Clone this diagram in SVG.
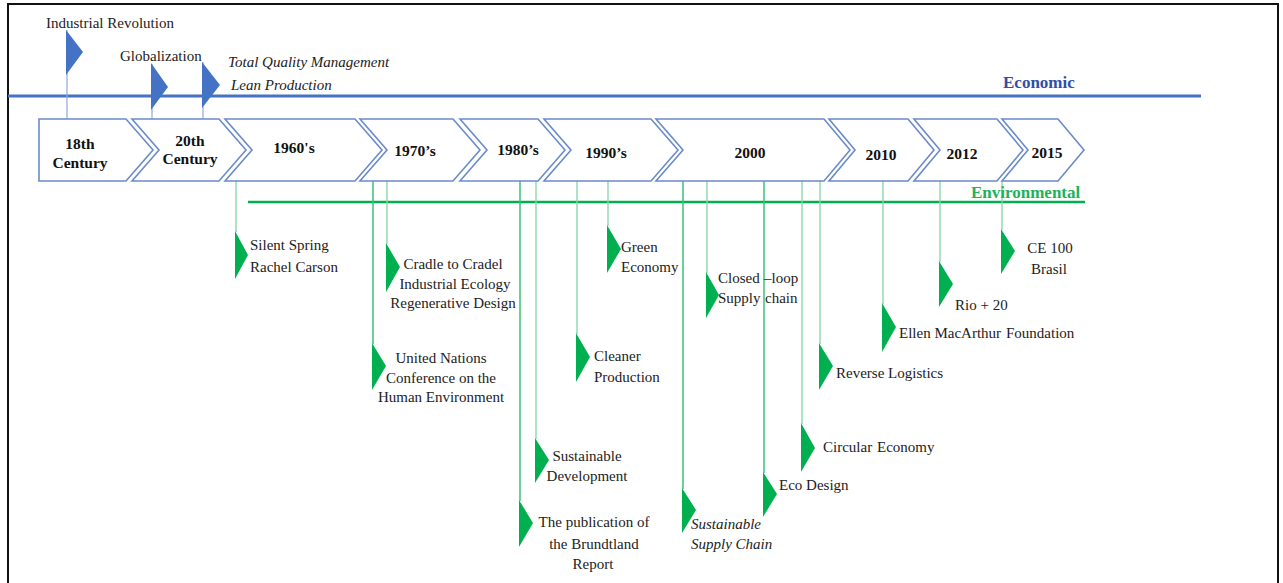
<svg xmlns="http://www.w3.org/2000/svg" width="1283" height="583" viewBox="0 0 1283 583">
  <style>
    .frame { fill: none; stroke: #111; stroke-width: 2; }
    .chev { fill: #fff; stroke: #6A8BCB; stroke-width: 1.6; stroke-linejoin: miter; }
    .era { font-family: "Liberation Serif", serif; font-weight: bold; font-size: 15.5px; fill: #111; text-anchor: middle; }
    .lbl { font-family: "Liberation Serif", serif; font-size: 15px; fill: #222; }
    .it { font-style: italic; }
    .mid { text-anchor: middle; }
    .axis-eco { stroke: #4472C4; stroke-width: 3; }
    .axis-env { stroke: #00B050; stroke-width: 2.6; }
    .eco-title { font-family: "Liberation Serif", serif; font-weight: bold; font-size: 17px; fill: #2F4FA8; }
    .env-title { font-family: "Liberation Serif", serif; font-weight: bold; font-size: 17px; fill: #1DB35A; }
    .pole-b { stroke: #8EA9DB; stroke-width: 1.2; }
    .pole-g { stroke: #82D6A6; stroke-width: 1.3; }
    .pole-gd { stroke: #3DBF78; stroke-width: 1.5; }
    .flag-b { fill: #4472C4; }
    .flag-g { fill: #00B050; }
  </style>

  <!-- outer frame -->
  <rect class="frame" x="8" y="4" width="1270" height="620"/>

  <!-- axes -->
  <g id="axes">
    <line class="axis-eco" x1="8" y1="96" x2="1201" y2="96"/>
    <text class="eco-title" x="1003" y="88">Economic</text>
    <line class="axis-env" x1="248" y1="202" x2="1085" y2="202"/>
  </g>

  <!-- connectors: poles from the timeline to each milestone flag -->
  <g id="connectors">
    <line class="pole-b" x1="67" y1="30" x2="67" y2="119"/>
    <line class="pole-b" x1="152" y1="64" x2="152" y2="119"/>
    <line class="pole-b" x1="203" y1="62" x2="203" y2="119"/>

    <line class="pole-g" x1="236" y1="181" x2="236" y2="232"/>
    <line class="pole-gd" x1="373" y1="181" x2="373" y2="344"/>
    <line class="pole-g" x1="387" y1="181" x2="387" y2="244"/>
    <line class="pole-gd" x1="520" y1="181" x2="520" y2="501"/>
    <line class="pole-g" x1="536" y1="181" x2="536" y2="439"/>
    <line class="pole-g" x1="577" y1="181" x2="577" y2="334"/>
    <line class="pole-g" x1="608" y1="181" x2="608" y2="226"/>
    <line class="pole-gd" x1="683" y1="181" x2="683" y2="489"/>
    <line class="pole-g" x1="707" y1="181" x2="707" y2="273"/>
    <line class="pole-gd" x1="764" y1="181" x2="764" y2="473"/>
    <line class="pole-g" x1="802" y1="181" x2="802" y2="424"/>
    <line class="pole-g" x1="820" y1="181" x2="820" y2="344"/>
    <line class="pole-g" x1="883" y1="181" x2="883" y2="304"/>
    <line class="pole-g" x1="940" y1="181" x2="940" y2="262"/>
    <line class="pole-g" x1="1002" y1="181" x2="1002" y2="230"/>
  </g>

  <!-- era chevrons -->
  <g id="era-18th">
    <polygon class="chev" points="39,119 126,119 153,150 126,181 39,181"/>
    <text class="era" x="80" y="149">18th</text>
    <text class="era" x="80" y="168">Century</text>
  </g>
  <g id="era-20th">
    <polygon class="chev" points="132,119 219,119 246,150 219,181 132,181 159,150"/>
    <text class="era" x="190" y="146">20th</text>
    <text class="era" x="190" y="164">Century</text>
  </g>
  <g id="era-1960s">
    <polygon class="chev" points="225,119 355,119 382,150 355,181 225,181 252,150"/>
    <text class="era" x="294" y="153">1960's</text>
  </g>
  <g id="era-1970s">
    <polygon class="chev" points="360,119 453,119 480,150 453,181 360,181 387,150"/>
    <text class="era" x="415" y="156">1970’s</text>
  </g>
  <g id="era-1980s">
    <polygon class="chev" points="460,119 538,119 565,150 538,181 460,181 487,150"/>
    <text class="era" x="518" y="155">1980’s</text>
  </g>
  <g id="era-1990s">
    <polygon class="chev" points="544,119 651,119 678,150 651,181 544,181 571,150"/>
    <text class="era" x="606" y="158">1990’s</text>
  </g>
  <g id="era-2000">
    <polygon class="chev" points="656,119 824,119 850,150 824,181 656,181 683,150"/>
    <text class="era" x="750" y="158">2000</text>
  </g>
  <g id="era-2010">
    <polygon class="chev" points="829,119 908,119 934,150 908,181 829,181 855,150"/>
    <text class="era" x="881" y="160">2010</text>
  </g>
  <g id="era-2012">
    <polygon class="chev" points="914,119 997,119 1023,150 997,181 914,181 940,150"/>
    <text class="era" x="962" y="159">2012</text>
  </g>
  <g id="era-2015">
    <polygon class="chev" points="1002,119 1058,119 1084,150 1058,181 1002,181 1028,150"/>
    <text class="era" x="1047" y="158">2015</text>
  </g>

  <text class="env-title" x="971" y="198">Environmental</text>

  <!-- economic milestones -->
  <g id="m-industrial-revolution">
    <polygon class="flag-b" points="66,30 83,52 66,75"/>
    <text class="lbl" x="46" y="28">Industrial Revolution</text>
  </g>
  <g id="m-globalization">
    <polygon class="flag-b" points="151,63 168,87 151,110"/>
    <text class="lbl" x="120" y="61">Globalization</text>
  </g>
  <g id="m-tqm-lean">
    <polygon class="flag-b" points="202,62 220,85 202,108"/>
    <text class="lbl it" x="228" y="67">Total Quality Management</text>
    <text class="lbl it" x="231" y="90">Lean Production</text>
  </g>

  <!-- environmental milestones -->
  <g id="m-silent-spring">
    <polygon class="flag-g" points="235,231 248,255 235,279"/>
    <text class="lbl" x="250" y="250">Silent Spring</text>
    <text class="lbl" x="250" y="272">Rachel Carson</text>
  </g>
  <g id="m-cradle">
    <polygon class="flag-g" points="386,243 400,267 386,292"/>
    <text class="lbl mid" x="453" y="269">Cradle to Cradel</text>
    <text class="lbl mid" x="455" y="289">Industrial Ecology</text>
    <text class="lbl mid" x="453" y="308">Regenerative Design</text>
  </g>
  <g id="m-un-conference">
    <polygon class="flag-g" points="372,343 386,366 372,390"/>
    <text class="lbl mid" x="441" y="363">United Nations</text>
    <text class="lbl mid" x="441" y="383">Conference on the</text>
    <text class="lbl mid" x="441" y="402">Human Environment</text>
  </g>
  <g id="m-green-economy">
    <polygon class="flag-g" points="607,225 621,249 607,273"/>
    <text class="lbl" x="621" y="252">Green</text>
    <text class="lbl" x="621" y="272">Economy</text>
  </g>
  <g id="m-cleaner-production">
    <polygon class="flag-g" points="576,333 590,357 576,382"/>
    <text class="lbl" x="594" y="361">Cleaner</text>
    <text class="lbl" x="594" y="382">Production</text>
  </g>
  <g id="m-closed-loop">
    <polygon class="flag-g" points="706,272 719,295 706,318"/>
    <text class="lbl" x="718" y="283">Closed<tspan x="764">–loop</tspan></text>
    <text class="lbl" x="718" y="303">Supply<tspan x="765">chain</tspan></text>
  </g>
  <g id="m-sustainable-development">
    <polygon class="flag-g" points="535,438 549,460 535,483"/>
    <text class="lbl mid" x="587" y="461">Sustainable</text>
    <text class="lbl mid" x="587" y="481">Development</text>
  </g>
  <g id="m-brundtland">
    <polygon class="flag-g" points="519,500 533,523 519,547"/>
    <text class="lbl mid" x="594" y="527">The publication of</text>
    <text class="lbl mid" x="594" y="549">the Brundtland</text>
    <text class="lbl mid" x="593" y="569">Report</text>
  </g>
  <g id="m-sustainable-supply-chain">
    <polygon class="flag-g" points="682,488 696,510 682,533"/>
    <text class="lbl it" x="691" y="529">Sustainable</text>
    <text class="lbl it" x="691" y="549">Supply Chain</text>
  </g>
  <g id="m-eco-design">
    <polygon class="flag-g" points="763,472 777,494 763,517"/>
    <text class="lbl" x="779" y="490">Eco Design</text>
  </g>
  <g id="m-circular-economy">
    <polygon class="flag-g" points="801,423 815,448 801,472"/>
    <text class="lbl" x="823" y="452">Circular<tspan x="877">Economy</tspan></text>
  </g>
  <g id="m-reverse-logistics">
    <polygon class="flag-g" points="819,343 833,366 819,390"/>
    <text class="lbl" x="836" y="378">Reverse Logistics</text>
  </g>
  <g id="m-ellen-macarthur">
    <polygon class="flag-g" points="882,303 896,327 882,352"/>
    <text class="lbl" x="899" y="338">Ellen MacArthur<tspan x="1006">Foundation</tspan></text>
  </g>
  <g id="m-rio20">
    <polygon class="flag-g" points="939,261 953,284 939,307"/>
    <text class="lbl" x="955" y="310">Rio + 20</text>
  </g>
  <g id="m-ce100">
    <polygon class="flag-g" points="1001,229 1015,251 1001,274"/>
    <text class="lbl mid" x="1050" y="253">CE 100</text>
    <text class="lbl mid" x="1049" y="274">Brasil</text>
  </g>
</svg>
